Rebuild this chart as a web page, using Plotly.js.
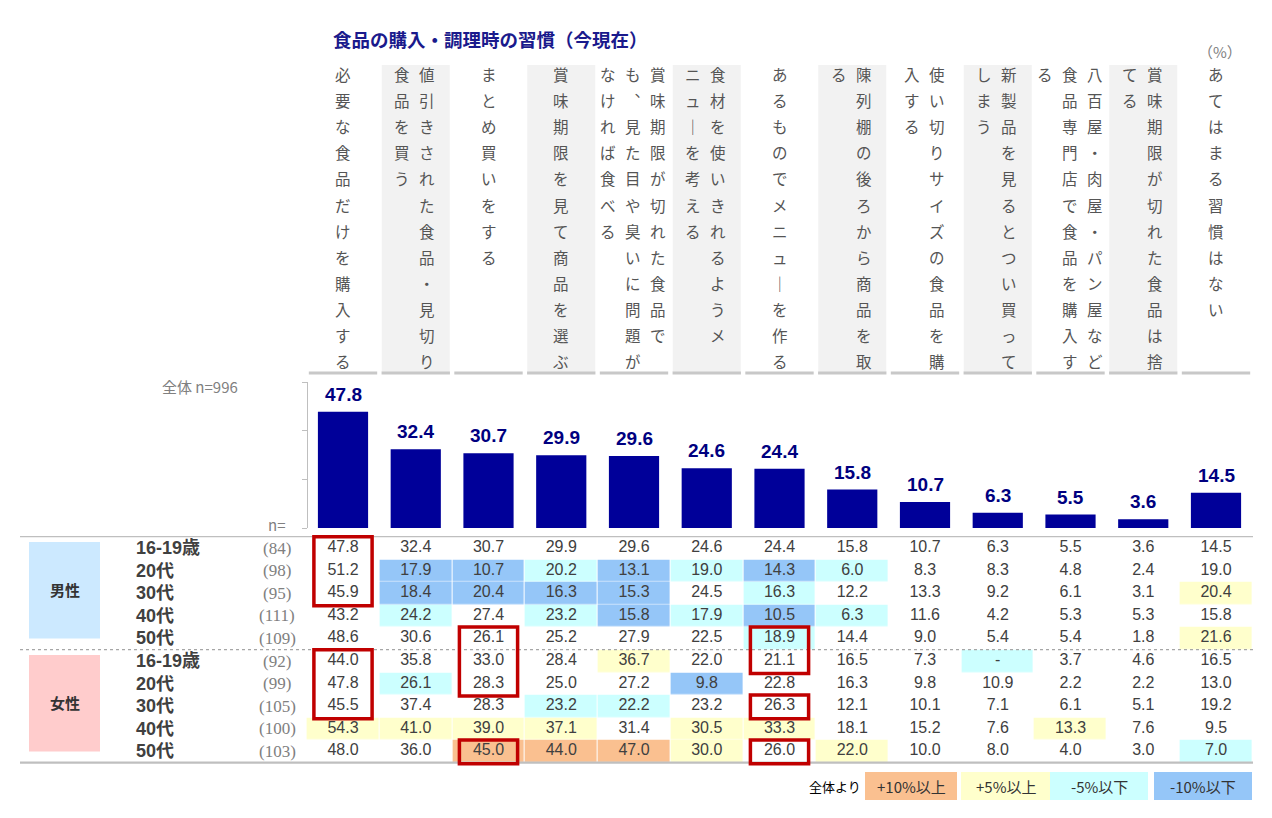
<!DOCTYPE html>
<html><head><meta charset="utf-8">
<script src="https://cdn.plot.ly/plotly-3.0.1.min.js"></script>
<style>html,body{margin:0;padding:0;background:#fff}#chart{width:1272px;height:818px}</style>
</head><body><div id="chart"></div>
<script>
// ---------- DATA ----------
const chartTitle = '食品の購入・調理時の習慣（今現在）';
const categories = [
  '必要な食品だけを購入する',
  '値引きされた食品・見切り食品を買う',
  'まとめ買いをする',
  '賞味期限を見て商品を選ぶ',
  '賞味期限が切れた食品でも、見た目や臭いに問題がなければ食べる',
  '食材を使いきれるようメニューを考える',
  'あるものでメニューを作る',
  '陳列棚の後ろから商品を取る',
  '使い切りサイズの食品を購入する',
  '新製品を見るとつい買ってしまう',
  '八百屋・肉屋・パン屋など食品専門店で食品を購入する',
  '賞味期限が切れた食品は捨てる',
  'あてはまる習慣はない'
];
// vertical header lines, right to left
const headerLines = [
  ['必要な食品だけを購入する'],
  ['値引きされた食品・見切り','食品を買う'],
  ['まとめ買いをする'],
  ['賞味期限を見て商品を選ぶ'],
  ['賞味期限が切れた食品で','も、見た目や臭いに問題が','なければ食べる'],
  ['食材を使いきれるようメ','ニューを考える'],
  ['あるものでメニューを作る'],
  ['陳列棚の後ろから商品を取','る'],
  ['使い切りサイズの食品を購','入する'],
  ['新製品を見るとつい買って','しまう'],
  ['八百屋・肉屋・パン屋など','食品専門店で食品を購入す','る'],
  ['賞味期限が切れた食品は捨','てる'],
  ['あてはまる習慣はない']
];
const overallN = 996;
const overall = [47.8, 32.4, 30.7, 29.9, 29.6, 24.6, 24.4, 15.8, 10.7, 6.3, 5.5, 3.6, 14.5];

const groups = ['男性', '女性'];
const rowLabels = ['16-19歳','20代','30代','40代','50代','16-19歳','20代','30代','40代','50代'];
const rowN = [84, 98, 95, 111, 109, 92, 99, 105, 100, 103];

const male16 = [47.8, 32.4, 30.7, 29.9, 29.6, 24.6, 24.4, 15.8, 10.7, 6.3, 5.5, 3.6, 14.5];
const male20 = [51.2, 17.9, 10.7, 20.2, 13.1, 19.0, 14.3, 6.0, 8.3, 8.3, 4.8, 2.4, 19.0];
const male30 = [45.9, 18.4, 20.4, 16.3, 15.3, 24.5, 16.3, 12.2, 13.3, 9.2, 6.1, 3.1, 20.4];
const male40 = [43.2, 24.2, 27.4, 23.2, 15.8, 17.9, 10.5, 6.3, 11.6, 4.2, 5.3, 5.3, 15.8];
const male50 = [48.6, 30.6, 26.1, 25.2, 27.9, 22.5, 18.9, 14.4, 9.0, 5.4, 5.4, 1.8, 21.6];
const female16 = [44.0, 35.8, 33.0, 28.4, 36.7, 22.0, 21.1, 16.5, 7.3, null, 3.7, 4.6, 16.5];
const female20 = [47.8, 26.1, 28.3, 25.0, 27.2, 9.8, 22.8, 16.3, 9.8, 10.9, 2.2, 2.2, 13.0];
const female30 = [45.5, 37.4, 28.3, 23.2, 22.2, 23.2, 26.3, 12.1, 10.1, 7.1, 6.1, 5.1, 19.2];
const female40 = [54.3, 41.0, 39.0, 37.1, 31.4, 30.5, 33.3, 18.1, 15.2, 7.6, 13.3, 7.6, 9.5];
const female50 = [48.0, 36.0, 45.0, 44.0, 47.0, 30.0, 26.0, 22.0, 10.0, 8.0, 4.0, 3.0, 7.0];
const tableRows = [male16, male20, male30, male40, male50, female16, female20, female30, female40, female50];

// cell highlight classes: 0 none, 1 +10%以上, 2 +5%以上, 3 -5%以下, 4 -10%以下
const cls16m = [0,0,0,0,0,0,0,0,0,0,0,0,0];
const cls20m = [0,4,4,3,4,3,4,3,0,0,0,0,0];
const cls30m = [0,4,4,4,4,0,3,0,0,0,0,0,2];
const cls40m = [0,3,0,3,4,3,4,3,0,0,0,0,0];
const cls50m = [0,0,0,0,0,0,3,0,0,0,0,0,2];
const cls16f = [0,0,0,0,2,0,0,0,0,3,0,0,0];
const cls20f = [0,3,0,0,0,4,0,0,0,0,0,0,0];
const cls30f = [0,0,0,3,3,0,0,0,0,0,0,0,0];
const cls40f = [2,2,2,2,0,2,2,0,0,0,2,0,0];
const cls50f = [0,0,1,1,1,2,0,2,0,0,0,0,3];
const cellClasses = [cls16m, cls20m, cls30m, cls40m, cls50m, cls16f, cls20f, cls30f, cls40f, cls50f];

// red highlight boxes: [column, first row, last row]
const redBoxes = [[0,0,2],[0,5,7],[2,4,6],[2,9,9],[6,4,5],[6,7,7],[6,9,9]];

const legendPrefix = '全体より';
const legendLabels = ['+10%以上', '+5%以上', '-5%以下', '-10%以下'];
const classColors = ['#FAC090', '#FFFFCC', '#CCFFFF', '#95C6F8'];

// ---------- LAYOUT HELPERS ----------
const W = 1272, H = 818;
const COL0 = 343, COLW = 72.75;
const ROW0 = 548, ROWH = 22.6;
const py = p => 1 - p / H;
const pxp = p => p / W;
const xUnits = p => p / COLW;

const colIdx = categories.map((c, i) => i);

const traces = [];

// bars (overall)
traces.push({
  type: 'bar', x: colIdx, y: overall, xaxis: 'x', yaxis: 'y',
  width: 0.69, marker: {color: '#000099'}, hoverinfo: 'skip'
});

// table cell colours (heatmap)
const zCells = cellClasses.map(r => r.map(v => v === 0 ? null : v));
const cs = [];
classColors.forEach((c, k) => { cs.push([k / 4, c]); cs.push([(k + 1) / 4, c]); });
traces.push({
  type: 'heatmap', x: colIdx, y: rowLabels.map((r, i) => i), z: zCells,
  xaxis: 'x', yaxis: 'y2', zmin: 0.5, zmax: 4.5, colorscale: cs,
  showscale: false, xgap: 1, ygap: 0.5, hoverinfo: 'skip'
});

// table values
const tx = [], ty = [], tt = [];
tableRows.forEach((row, r) => row.forEach((v, c) => {
  tx.push(c); ty.push(r); tt.push(v === null ? '-' : v.toFixed(1));
}));
traces.push({
  type: 'scatter', mode: 'text', x: tx, y: ty, text: tt, xaxis: 'x', yaxis: 'y2',
  textfont: {family: 'Liberation Sans, Arial, sans-serif', size: 16, color: '#404040'},
  hoverinfo: 'skip', cliponaxis: false
});

// ---------- SHAPES ----------
const shapes = [];
colIdx.forEach(i => {
  if (i % 2 === 1) {
    shapes.push({type: 'rect', xref: 'x', yref: 'paper', x0: i - 0.467, x1: i + 0.467,
      y0: py(372), y1: py(65), fillcolor: '#F2F2F2', line: {width: 0}, layer: 'below'});
  }
  shapes.push({type: 'line', xref: 'x', yref: 'paper', x0: i - 0.47, x1: i + 0.47,
    y0: py(373), y1: py(373), line: {color: '#C8C8C8', width: 3}});
});
shapes.push({type: 'line', xref: 'paper', yref: 'y2', x0: pxp(20), x1: pxp(1253), y0: -0.5, y1: -0.5,
  line: {color: '#BFBFBF', width: 1.2}});
shapes.push({type: 'line', xref: 'paper', yref: 'y2', x0: pxp(20), x1: pxp(1253), y0: 4.5, y1: 4.5,
  line: {color: '#A6A6A6', width: 1.2, dash: 'dot'}});
shapes.push({type: 'line', xref: 'paper', yref: 'y2', x0: pxp(20), x1: pxp(1253), y0: 9.5, y1: 9.5,
  line: {color: '#BFBFBF', width: 2.2}});
const groupColors = ['#CCE9FF', '#FFCCCC'];
groups.forEach((g, k) => {
  shapes.push({type: 'rect', xref: 'paper', yref: 'y2', x0: pxp(29), x1: pxp(100),
    y0: k * 5 - 0.27, y1: k * 5 + 4.0, fillcolor: groupColors[k], line: {width: 0}, layer: 'below'});
});
redBoxes.forEach(([c, r0, r1]) => {
  shapes.push({type: 'rect', xref: 'x', yref: 'y2', x0: c - 0.4, x1: c + 0.4,
    y0: r0 - 0.5, y1: r1 + 0.55, line: {color: '#C00000', width: 3.5}, fillcolor: 'rgba(0,0,0,0)'});
});
const legendBoxes = [[865, 957], [961, 1050], [1050, 1148], [1154, 1252]];
legendLabels.forEach((l, k) => {
  shapes.push({type: 'rect', xref: 'paper', yref: 'paper', x0: pxp(legendBoxes[k][0]), x1: pxp(legendBoxes[k][1]),
    y0: py(800), y1: py(772), fillcolor: classColors[k], line: {width: 0}});
});

// ---------- ANNOTATIONS ----------
const ann = [];
const cjk = 'Noto Sans CJK JP, sans-serif';
ann.push({text: '<b>' + chartTitle + '</b>', xref: 'paper', yref: 'paper', x: pxp(331), y: py(39),
  xanchor: 'left', yanchor: 'middle', showarrow: false, font: {family: cjk, size: 18.5, color: '#1A1A8C'}});
ann.push({text: '（%）', xref: 'paper', yref: 'paper', x: pxp(1220), y: py(51),
  xanchor: 'center', yanchor: 'middle', showarrow: false, font: {family: cjk, size: 15, color: '#808080'}});
ann.push({text: '全体 n=' + overallN, xref: 'paper', yref: 'paper', x: pxp(240), y: py(386),
  xanchor: 'right', yanchor: 'middle', showarrow: false, font: {family: cjk, size: 15, color: '#808080'}});
ann.push({text: 'n=', xref: 'paper', yref: 'paper', x: pxp(287), y: py(524),
  xanchor: 'right', yanchor: 'middle', showarrow: false, font: {family: cjk, size: 15, color: '#808080'}});

const vmap = {'ー': '｜', '、': '︑'};
headerLines.forEach((lines, i) => {
  const L = lines.length;
  lines.forEach((line, k) => {
    const off = ((L - 1) / 2 - k) * 25 - (L > 1 ? 1 : 0);
    Array.from(line).forEach((ch, j) => {
      ann.push({text: vmap[ch] || ch, xref: 'x', yref: 'paper', x: i + xUnits(off), y: py(74 + 26.1 * j),
        xanchor: 'center', yanchor: 'middle', showarrow: false,
        font: {family: cjk, size: 15.5, color: '#555555'}});
    });
  });
});

overall.forEach((v, i) => {
  ann.push({text: '<b>' + v.toFixed(1) + '</b>', xref: 'x', yref: 'y', x: i, y: v,
    xanchor: 'center', yanchor: 'bottom', yshift: 5, showarrow: false,
    font: {family: 'Liberation Sans, Arial, sans-serif', size: 19, color: '#000080'}});
});

rowLabels.forEach((l, r) => {
  ann.push({text: '<b>' + l + '</b>', xref: 'paper', yref: 'y2', x: pxp(134), y: r,
    xanchor: 'left', yanchor: 'middle', showarrow: false,
    font: {family: 'Liberation Sans, Noto Sans CJK JP, sans-serif', size: 18, color: '#404040'}});
  ann.push({text: '(' + rowN[r] + ')', xref: 'paper', yref: 'y2', x: pxp(277), y: r,
    xanchor: 'center', yanchor: 'middle', showarrow: false,
    font: {family: 'Liberation Serif, serif', size: 17, color: '#808080'}});
});
groups.forEach((g, k) => {
  ann.push({text: '<b>' + g + '</b>', xref: 'paper', yref: 'y2', x: pxp(65), y: k * 5 + 1.85,
    xanchor: 'center', yanchor: 'middle', showarrow: false, font: {family: cjk, size: 15, color: '#333333'}});
});

ann.push({text: legendPrefix, xref: 'paper', yref: 'paper', x: pxp(863), y: py(786),
  xanchor: 'right', yanchor: 'middle', showarrow: false, font: {family: cjk, size: 13, color: '#000000'}});
legendLabels.forEach((l, k) => {
  ann.push({text: l, xref: 'paper', yref: 'paper', x: pxp((legendBoxes[k][0] + legendBoxes[k][1]) / 2), y: py(786),
    xanchor: 'center', yanchor: 'middle', showarrow: false, font: {family: cjk, size: 15, color: '#333333'}});
});

const layout = {
  width: W, height: H, margin: {l: 0, r: 0, t: 0, b: 0},
  paper_bgcolor: '#ffffff', plot_bgcolor: 'rgba(0,0,0,0)', showlegend: false,
  xaxis: {range: [-COL0 / COLW, (W - COL0) / COLW], domain: [0, 1], visible: false, fixedrange: true},
  yaxis: {domain: [py(528), py(382)], range: [0, 60], anchor: 'free', position: pxp(307),
    tickvals: [0, 20, 40, 60], ticks: 'outside', ticklen: 5, tickcolor: '#BFBFBF',
    showline: true, linecolor: '#BFBFBF', linewidth: 1, showticklabels: false,
    showgrid: false, zeroline: false, fixedrange: true},
  yaxis2: {domain: [0, 1], range: [(H - ROW0) / ROWH, -ROW0 / ROWH], anchor: 'x',
    visible: false, showgrid: false, zeroline: false, fixedrange: true},
  shapes: shapes, annotations: ann
};

Plotly.newPlot('chart', traces, layout, {displayModeBar: false, staticPlot: true});
</script>
</body></html>
